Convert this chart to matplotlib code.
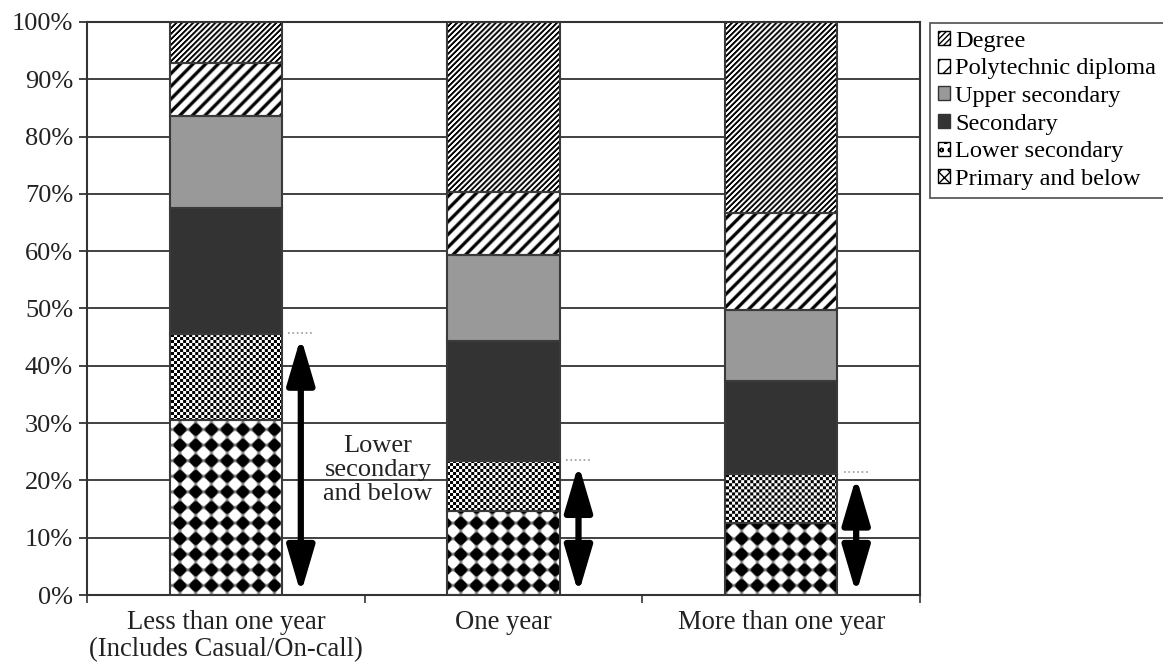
import numpy as np
import matplotlib
matplotlib.use("Agg")
from matplotlib import pyplot as plt
from matplotlib import ticker
from matplotlib.patches import Patch

plt.rcParams["font.family"] = ["Liberation Serif", "DejaVu Serif"]

categories = ["Less than one year\n(Includes Casual/On-call)", "One year", "More than one year"]
levels = ["Primary and below", "Lower secondary", "Secondary",
          "Upper secondary", "Polytechnic diploma", "Degree"]
primary = [30.5, 14.6, 12.5]
lower_secondary = [15.0, 8.7, 8.6]
secondary = [22.1, 21.0, 16.2]
upper_secondary = [16.0, 15.1, 12.4]
polytechnic = [9.3, 11.0, 17.0]
degree = [7.1, 29.6, 33.3]
yticks = [0, 10, 20, 30, 40, 50, 60, 70, 80, 90, 100]


def texture(kind, xx, yy):
    # whiteness in 0..1 computed on absolute pixel coordinates
    if kind == "degree":
        w = 0.5 + 0.5 * np.cos(2 * np.pi * (xx - yy) / 5.5)
        return np.clip((w - 0.5) * 2.2 + 0.5, 0, 1)
    if kind == "poly":
        w = 0.5 + 0.5 * np.cos(2 * np.pi * (xx - yy) / 12.5)
        return np.clip((w - 0.3) * 3.0 + 0.5, 0, 1)
    if kind == "checker":
        return ((np.floor(xx / 3) + np.floor(yy / 3)) % 2).astype(float)
    if kind == "diamond":
        d = 15.6
        u = (xx + yy) / d
        v = (xx - yy) / d
        return np.clip(0.5 - 3.0 * np.sin(np.pi * u) * np.sin(np.pi * v), 0, 1)
    return None


def fill_texture(ax, patch, kind):
    bb = patch.get_window_extent()
    w = max(int(round(bb.width)), 1)
    h = max(int(round(bb.height)), 1)
    yy, xx = np.mgrid[0:h, 0:w]
    vals = texture(kind, xx + round(bb.x0), yy + round(bb.y0))
    x0, y0 = patch.get_x(), patch.get_y()
    im = ax.imshow(vals, cmap="gray", vmin=0, vmax=1, origin="lower", aspect="auto",
                   interpolation="bilinear",
                   extent=(x0, x0 + patch.get_width(), y0, y0 + patch.get_height()),
                   zorder=2.5)
    im.set_clip_path(patch)


fig = plt.figure(figsize=(11.63, 6.64), dpi=100)
ax = fig.add_axes([0.0748, 0.1039, 0.7163, 0.863])
x = np.arange(len(categories))
ax.set_xlim(-0.5, 2.5)
ax.set_ylim(0, 100)

series = [
    (primary, "diamond", "white"),
    (lower_secondary, "checker", "white"),
    (secondary, None, "#333333"),
    (upper_secondary, None, "#999999"),
    (polytechnic, "poly", "white"),
    (degree, "degree", "white"),
]
bottom = np.zeros(len(categories))
for vals, kind, color in series:
    bars = ax.bar(x, vals, width=0.405, bottom=bottom, color=color,
                  edgecolor="#3a3a3a", linewidth=1.5, zorder=3)
    if kind:
        for b in bars:
            b.set_facecolor("none")
            fill_texture(ax, b, kind)
    bottom += np.array(vals)

ax.set_xlim(-0.5, 2.5)
ax.set_ylim(0, 100)

# arrows spanning lower secondary and below
low_tops = np.array(primary) + np.array(lower_secondary)
for xi, top in zip(x, low_tops):
    xa = xi + 0.27
    ax.annotate("", xy=(xa, top), xytext=(xa, 0),
                arrowprops=dict(arrowstyle="<|-|>,head_length=0.95,head_width=0.28",
                                lw=4.5, color="black", mutation_scale=30,
                                shrinkA=1, shrinkB=2), zorder=4)
    ax.hlines(top + 0.3, xa - 0.045, xa + 0.045, colors="#999999", linestyles=":", lw=1.2, zorder=4)

ax.text(0.548, 21.8, "Lower\nsecondary\nand below", ha="center", va="center",
        fontsize=19, linespacing=1.13, color="#222222", zorder=5)

ax.set_yticks(yticks)
ax.yaxis.set_major_formatter(ticker.PercentFormatter(decimals=0))
ax.set_xticks(x)
ax.set_xticklabels(categories, linespacing=1.12)
ax.set_xticks([-0.5, 0.5, 1.5, 2.5], minor=True)
ax.tick_params(axis="x", which="major", length=0, pad=11, labelsize=19.2, colors="#222222")
ax.tick_params(axis="x", which="minor", length=6, width=1.2, color="#333333")
ax.tick_params(axis="y", length=6, width=1.2, labelsize=19, colors="#222222", pad=4)
ax.yaxis.grid(True, color="#333333", linewidth=1.3)
ax.set_axisbelow(True)
for sp in ax.spines.values():
    sp.set_color("#333333")
    sp.set_linewidth(1.5)

handles = [
    Patch(facecolor="white", edgecolor="black", hatch="//////"),
    Patch(facecolor="white", edgecolor="black", hatch="//"),
    Patch(facecolor="#999999", edgecolor="#333333"),
    Patch(facecolor="#333333", edgecolor="#333333"),
    Patch(facecolor="white", edgecolor="black", hatch="oo"),
    Patch(facecolor="white", edgecolor="black", hatch="xxx"),
]
leg = fig.legend(handles, levels[::-1], loc="upper left",
                 bbox_to_anchor=(930 / 1163, 1 - 23 / 664), fontsize=17.6,
                 frameon=True, fancybox=False, edgecolor="#333333",
                 handlelength=0.5, handleheight=0.5, handletextpad=0.2,
                 labelspacing=0.27, borderpad=0.32, borderaxespad=0)
leg.get_frame().set_linewidth(1.3)

fig.savefig("out.png", dpi=100)
